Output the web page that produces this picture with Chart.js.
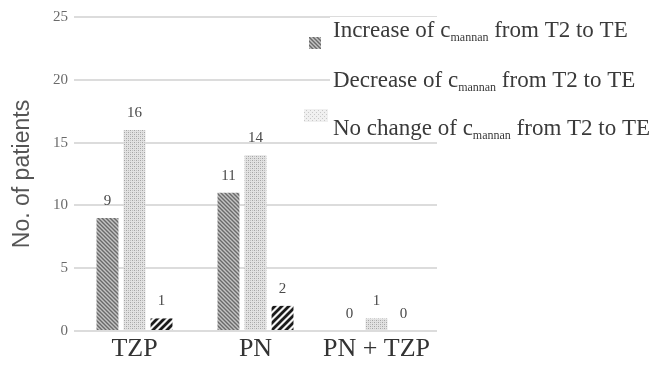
<!DOCTYPE html>
<html>
<head>
<meta charset="utf-8">
<script src="https://cdn.jsdelivr.net/npm/chart.js@4/dist/chart.umd.min.js"></script>
<style>
  html, body { margin: 0; padding: 0; background: #ffffff; }
  #wrap { width: 650px; height: 367px; position: relative; }
</style>
</head>
<body>
<div id="wrap"><canvas id="c" width="650" height="367"></canvas></div>
<script>
const categories = ['TZP', 'PN', 'PN + TZP'];
const seriesNames = [
  'Increase of c_mannan from T2 to TE',
  'Decrease of c_mannan from T2 to TE',
  'No change of c_mannan from T2 to TE'
];
const increaseValues = [9, 11, 0];
const decreaseValues = [16, 14, 1];
const noChangeValues = [1, 2, 0];
const yTicks = [0, 5, 10, 15, 20, 25];

const SERIF = '"Liberation Serif", "Times New Roman", serif';

function makePattern(kind) {
  const c = document.createElement('canvas');
  const ctx = c.getContext('2d');
  if (kind === 'inc') {
    const s = 4; c.width = s; c.height = s;
    ctx.fillStyle = '#c4c4c4'; ctx.fillRect(0, 0, s, s);
    ctx.strokeStyle = '#6a6a6a'; ctx.lineWidth = 1.4;
    ctx.beginPath();
    ctx.moveTo(-1, -1); ctx.lineTo(s + 1, s + 1);
    ctx.moveTo(-1, s - 1); ctx.lineTo(1, s + 1);
    ctx.moveTo(s - 1, -1); ctx.lineTo(s + 1, 1);
    ctx.stroke();
  } else if (kind === 'dec') {
    const s = 4; c.width = s; c.height = s;
    ctx.fillStyle = '#e2e2e2'; ctx.fillRect(0, 0, s, s);
    ctx.fillStyle = '#a4a4a4';
    ctx.fillRect(0, 0, 1, 1); ctx.fillRect(2, 2, 1, 1);
    ctx.fillStyle = '#c0c0c0';
    ctx.fillRect(2, 0, 1, 1); ctx.fillRect(0, 2, 1, 1);
  } else if (kind === 'none') {
    const s = 7; c.width = s; c.height = s;
    ctx.fillStyle = '#f4f4f4'; ctx.fillRect(0, 0, s, s);
    ctx.strokeStyle = '#1a1a1a'; ctx.lineWidth = 2.8;
    ctx.beginPath();
    ctx.moveTo(-1, s + 1); ctx.lineTo(s + 1, -1);
    ctx.moveTo(-1, 1); ctx.lineTo(1, -1);
    ctx.moveTo(s - 1, s + 1); ctx.lineTo(s + 1, s - 1);
    ctx.stroke();
  } else {
    const s = 4; c.width = s; c.height = s;
    ctx.fillStyle = '#f0f0f0'; ctx.fillRect(0, 0, s, s);
    ctx.fillStyle = '#c8c8c8';
    ctx.fillRect(0, 0, 1, 1); ctx.fillRect(2, 2, 1, 1);
  }
  return ctx.createPattern(c, 'repeat');
}

const pInc = makePattern('inc');
const pDec = makePattern('dec');
const pNone = makePattern('none');
const pLight = makePattern('light');

const valueLabels = {
  id: 'valueLabels',
  afterDatasetsDraw(chart) {
    const ctx = chart.ctx;
    ctx.save();
    ctx.font = '15px ' + SERIF;
    ctx.fillStyle = '#4a4a4a';
    ctx.textAlign = 'center';
    ctx.textBaseline = 'middle';
    chart.data.datasets.forEach((ds, i) => {
      const meta = chart.getDatasetMeta(i);
      meta.data.forEach((el, j) => {
        ctx.fillText(String(ds.data[j]), el.x, el.y - 17);
      });
    });
    ctx.restore();
  }
};

const customLegend = {
  id: 'customLegend',
  afterDraw(chart) {
    const ctx = chart.ctx;
    ctx.save();
    const centers = [30, 80, 128];
    const x0 = 333;
    const big = '23px ' + SERIF;
    const small = '12px ' + SERIF;
    chart.data.datasets.forEach((ds, i) => {
      const cy = centers[i];
      ctx.fillStyle = '#ffffff';
      ctx.fillRect(x0 - 3, cy - 13, 650 - x0 + 3, 27);
      const m = ds.label.match(/^(.*?c)_(\w+)(.*)$/);
      const parts = m ? [m[1], m[2], m[3]] : [ds.label, '', ''];
      let x = x0;
      const base = cy + 7;
      ctx.fillStyle = '#3a3a3a';
      ctx.textBaseline = 'alphabetic';
      ctx.textAlign = 'left';
      ctx.font = big;
      ctx.fillText(parts[0], x, base);
      x += ctx.measureText(parts[0]).width;
      ctx.font = small;
      ctx.fillText(parts[1], x, base + 4);
      x += ctx.measureText(parts[1]).width;
      ctx.font = big;
      ctx.fillText(parts[2], x, base);
    });
    // legend markers as they appear in the figure
    ctx.fillStyle = pInc;
    ctx.fillRect(309, 37, 12, 12);
    ctx.fillStyle = pLight;
    ctx.fillRect(304, 109, 24, 13);
    ctx.restore();
  }
};

new Chart(document.getElementById('c'), {
  type: 'bar',
  data: {
    labels: categories,
    datasets: [
      { label: seriesNames[0], data: increaseValues, backgroundColor: pInc },
      { label: seriesNames[1], data: decreaseValues, backgroundColor: pDec },
      { label: seriesNames[2], data: noChangeValues, backgroundColor: pNone }
    ]
  },
  options: {
    responsive: false,
    animation: false,
    devicePixelRatio: 1,
    categoryPercentage: 0.67,
    barPercentage: 0.81,
    layout: { padding: { top: 17, right: 213, bottom: 0, left: 0 } },
    plugins: {
      legend: { display: false },
      tooltip: { enabled: false }
    },
    scales: {
      x: {
        afterFit(scale) { scale.height = 36; },
        grid: { display: false, drawTicks: false },
        border: { display: false },
        ticks: {
          padding: 3,
          maxRotation: 0,
          color: '#333333',
          font: { family: SERIF, size: 26 }
        }
      },
      y: {
        min: 0,
        max: 25,
        afterFit(scale) { scale.width = 74; },
        afterBuildTicks(scale) { scale.ticks = yTicks.map(v => ({ value: v })); },
        grid: { color: '#dcdcdc', lineWidth: 2, drawTicks: false },
        border: { display: false },
        ticks: {
          padding: 6,
          color: '#6a6a6a',
          font: { family: SERIF, size: 15 }
        },
        title: {
          display: true,
          text: 'No. of patients',
          color: '#555555',
          padding: { top: 9, bottom: 0 },
          font: { family: '"Liberation Sans", Arial, sans-serif', size: 23 }
        }
      }
    }
  },
  plugins: [valueLabels, customLegend]
});
</script>
</body>
</html>
